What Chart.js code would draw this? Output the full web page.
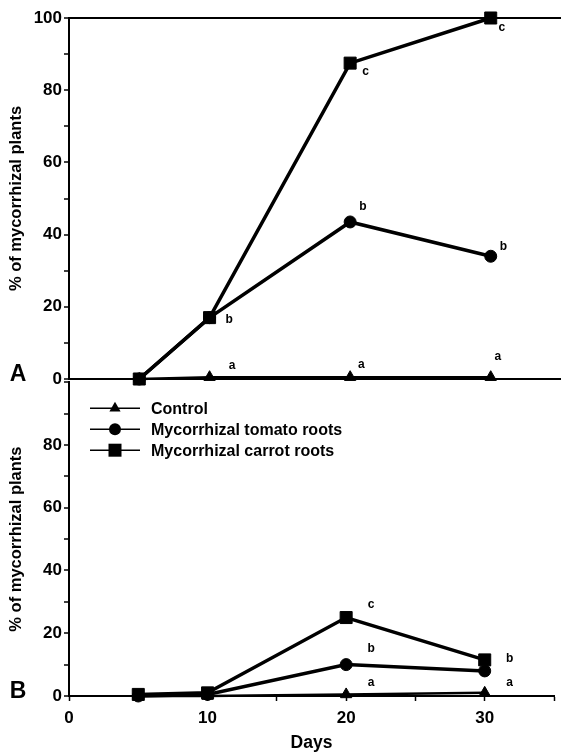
<!DOCTYPE html>
<html lang="en">
<head>
    <meta charset="UTF-8">
    <title>Mycorrhizal plants over time</title>
    <script src="https://cdn.jsdelivr.net/npm/chart.js@4.4.1/dist/chart.umd.min.js"></script>
    <style>
        body {
            margin: 0;
            background-color: #fff;
        }

        #wrap {
            position: relative;
            width: 561px;
            height: 755px;
        }

        #chartA, #chartB {
            position: absolute;
            left: 0;
        }

        #chartA {
            top: 0;
        }

        #chartB {
            top: 370px;
        }
    </style>
</head>
<body>
    <div id="wrap">
        <canvas id="chartA" width="561" height="395"></canvas>
        <canvas id="chartB" width="561" height="385"></canvas>
    </div>

    <script>
        // Days sampled
        const days = [5, 10, 20, 30];

        // Panel A
        const controlA = [0, 0.5, 0.5, 0.5];
        const tomatoA = [0, 17, 43.5, 34];
        const carrotA = [0, 17, 87.5, 100];

        // Panel B
        const controlB = [0, 0, 0.5, 1];
        const tomatoB = [0, 0.5, 10, 8];
        const carrotB = [0.5, 1, 25, 11.5];

        // Significance letters (day, value)
        const lettersA = ['b', 'c', 'c', 'b', 'b', 'a', 'a', 'a'];
        const letterDaysA = [11.4, 21.1, 30.8, 20.9, 30.9, 11.6, 20.8, 30.5];
        const letterValsA = [16.3, 85, 97.2, 47.6, 36.6, 3.6, 3.9, 6.1];

        const lettersB = ['c', 'b', 'a', 'b', 'a'];
        const letterDaysB = [21.8, 21.8, 21.8, 31.8, 31.8];
        const letterValsB = [29, 15, 4.1, 12, 4.1];

        const seriesNames = ['Control', 'Mycorrhizal tomato roots', 'Mycorrhizal carrot roots'];
        const seriesMarkers = ['triangle', 'circle', 'rect'];

        const FONT = "'Liberation Sans', Arial, sans-serif";
        Chart.defaults.color = '#000';
        Chart.defaults.font.family = FONT;

        const toPoints = (vals) => vals.map((v, i) => ({ x: days[i], y: v }));

        function makeDatasets(control, tomato, carrot) {
            const base = {
                borderColor: '#000',
                backgroundColor: '#000',
                pointBackgroundColor: '#000',
                pointBorderColor: '#000',
                pointBorderWidth: 1,
                tension: 0,
                clip: false
            };
            return [
                { ...base, label: seriesNames[0], data: toPoints(control), borderWidth: 2.5, pointStyle: 'triangle', pointRadius: 6.5 },
                { ...base, label: seriesNames[1], data: toPoints(tomato), borderWidth: 3.5, pointStyle: 'circle', pointRadius: 6 },
                { ...base, label: seriesNames[2], data: toPoints(carrot), borderWidth: 3.5, pointStyle: 'rect', pointRadius: 8.5 }
            ];
        }

        function drawMarker(ctx, style, x, y) {
            ctx.beginPath();
            if (style === 'triangle') {
                ctx.moveTo(x, y - 6.5);
                ctx.lineTo(x + 5.6, y + 3.3);
                ctx.lineTo(x - 5.6, y + 3.3);
                ctx.closePath();
            } else if (style === 'circle') {
                ctx.arc(x, y, 6, 0, Math.PI * 2);
            } else {
                ctx.rect(x - 6.5, y - 6.5, 13, 13);
            }
            ctx.fill();
        }

        // draws significance letters and the panel letter
        function panelPlugin(id, panel, letters, letterDays, letterVals, withLegend) {
            return {
                id: id,
                afterDraw(chart) {
                    const ctx = chart.ctx;
                    const xs = chart.scales.x;
                    const ys = chart.scales.y;
                    ctx.save();
                    ctx.fillStyle = '#000';
                    ctx.textAlign = 'center';
                    ctx.textBaseline = 'middle';
                    ctx.font = 'bold 12px ' + FONT;
                    letters.forEach((t, i) => {
                        ctx.fillText(t, xs.getPixelForValue(letterDays[i]), ys.getPixelForValue(letterVals[i]));
                    });

                    ctx.font = 'bold 23px ' + FONT;
                    ctx.fillText(panel, 18, ys.getPixelForValue(0) - 4);

                    if (withLegend) {
                        const area = chart.chartArea;
                        ctx.textAlign = 'left';
                        ctx.font = 'bold 16px ' + FONT;
                        ctx.strokeStyle = '#000';
                        ctx.lineWidth = 1.5;
                        seriesNames.forEach((name, i) => {
                            const y = area.top + 26 + i * 21;
                            const x0 = area.left + 21;
                            ctx.beginPath();
                            ctx.moveTo(x0, y);
                            ctx.lineTo(x0 + 50, y);
                            ctx.stroke();
                            drawMarker(ctx, seriesMarkers[i], x0 + 25, y);
                            ctx.fillText(name, x0 + 61, y + 1);
                        });
                    }
                    ctx.restore();
                }
            };
        }

        const yAxisBase = (hideTop) => ({
            min: 0,
            max: 100,
            afterFit: (scale) => { scale.width = 69; },
            ticks: {
                stepSize: 10,
                autoSkip: false,
                padding: 2,
                font: { size: 17, weight: 'bold' },
                callback: (v) => (v % 20 === 0 && !(hideTop && v === 100)) ? v : ''
            },
            grid: {
                color: (c) => (!hideTop && c.tick && c.tick.value === 100) ? '#000' : 'rgba(0,0,0,0)',
                lineWidth: 2,
                tickColor: '#000',
                tickWidth: 1.5,
                tickLength: 5
            },
            border: { display: true, color: '#000', width: 2 },
            title: {
                display: true,
                text: '% of mycorrhizal plants',
                font: { size: 16.5, weight: 'bold' },
                padding: { top: 7, bottom: 0 }
            }
        });

        const chartA = new Chart(document.getElementById('chartA').getContext('2d'), {
            type: 'line',
            data: { datasets: makeDatasets(controlA, tomatoA, carrotA) },
            options: {
                responsive: false,
                animation: false,
                layout: { autoPadding: false, padding: { top: 18, left: 0, right: 0, bottom: 0 } },
                plugins: { legend: { display: false }, tooltip: { enabled: false } },
                scales: {
                    x: {
                        type: 'linear',
                        min: 0,
                        max: 35,
                        afterFit: (scale) => { scale.height = 16; },
                        ticks: { display: false },
                        grid: { display: true, drawOnChartArea: false, drawTicks: false },
                        border: { display: true, color: '#000', width: 2 }
                    },
                    y: yAxisBase(false)
                }
            },
            plugins: [panelPlugin('panelA', 'A', lettersA, letterDaysA, letterValsA, false)]
        });

        const chartB = new Chart(document.getElementById('chartB').getContext('2d'), {
            type: 'line',
            data: { datasets: makeDatasets(controlB, tomatoB, carrotB) },
            options: {
                responsive: false,
                animation: false,
                layout: { autoPadding: false, padding: { top: 9, left: 0, right: 0, bottom: 0 } },
                plugins: { legend: { display: false }, tooltip: { enabled: false } },
                scales: {
                    x: {
                        type: 'linear',
                        min: 0,
                        max: 35,
                        afterFit: (scale) => { scale.height = 59; },
                        ticks: {
                            stepSize: 5,
                            autoSkip: false,
                            maxRotation: 0,
                            padding: 7,
                            font: { size: 17, weight: 'bold' },
                            callback: (v) => (v % 10 === 0 && v <= 30) ? v : ''
                        },
                        grid: { drawOnChartArea: false, tickColor: '#000', tickWidth: 1.5, tickLength: 5 },
                        border: { display: true, color: '#000', width: 2 },
                        title: {
                            display: true,
                            text: 'Days',
                            font: { size: 17.5, weight: 'bold' },
                            padding: { top: 0, bottom: 1 }
                        }
                    },
                    y: yAxisBase(true)
                }
            },
            plugins: [panelPlugin('panelB', 'B', lettersB, letterDaysB, letterValsB, true)]
        });
    </script>
</body>
</html>
